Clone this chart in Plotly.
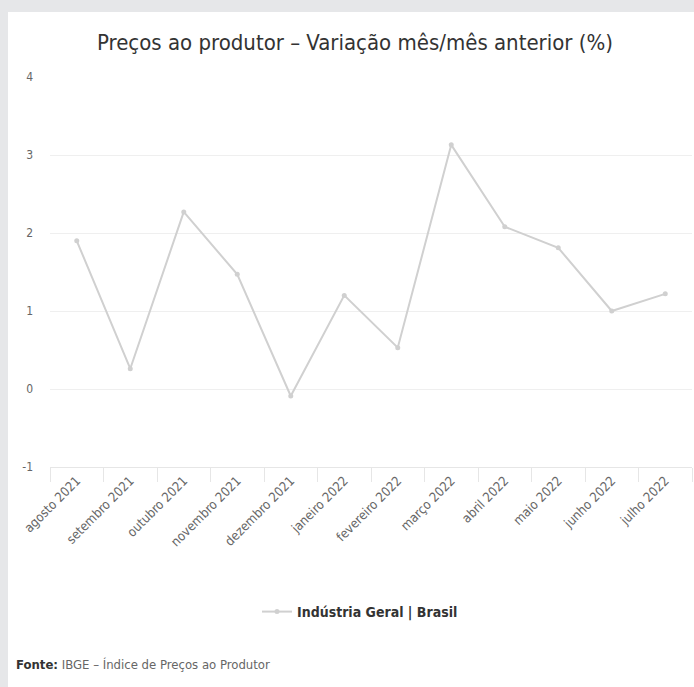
import plotly.graph_objects as go

categories = ["agosto 2021", "setembro 2021", "outubro 2021", "novembro 2021",
              "dezembro 2021", "janeiro 2022", "fevereiro 2022", "março 2022",
              "abril 2022", "maio 2022", "junho 2022", "julho 2022"]
values = [1.90, 0.26, 2.27, 1.47, -0.09, 1.20, 0.53, 3.13, 2.08, 1.81, 1.00, 1.22]
series_name = "Indústria Geral | Brasil"
y_ticks = [-1, 0, 1, 2, 3, 4]
y_tick_labels = ["-1", "0", "1", "2", "3", "4"]

W, H = 694, 687
L, R, T, B = 50, 2, 77, 220
pw, ph = W - L - R, H - T - B

def px(x):
    return (x - L) / pw

def py(y):
    return (H - B - y) / ph

FONT = "Liberation Sans Narrow, DejaVu Sans Condensed, Arial Narrow, sans-serif"

fig = go.Figure()
fig.add_trace(go.Scatter(
    x=categories, y=values, mode="lines+markers", name="<b>" + series_name + "</b>",
    line=dict(color="#d0d0d0", width=2),
    marker=dict(color="#d0d0d0", size=5),
    showlegend=True,
))

fig.update_layout(
    width=W, height=H,
    margin=dict(l=L, r=R, t=T, b=B, autoexpand=False),
    paper_bgcolor="#e6e7e9",
    plot_bgcolor="white",
    font=dict(family=FONT, color="#666666"),
    title=dict(text="Preços ao produtor – Variação mês/mês anterior (%)",
               x=px(355), xref="paper", xanchor="center",
               y=1 - 42 / H, yanchor="middle",
               font=dict(size=22, color="#333333", family=FONT)),
    xaxis=dict(type="category", range=[-0.5, len(categories) - 0.5],
               showgrid=False, showline=True, linecolor="#e6e6e6",
               linewidth=1, ticks="outside", tickson="boundaries", ticklen=14,
               tickcolor="#e6e6e6", tickangle=-45, tickfont=dict(size=13, color="#666666"),
               zeroline=False, automargin=False),
    yaxis=dict(range=[-1, 4], tickvals=y_ticks, ticktext=y_tick_labels,
               showgrid=True, gridcolor="#efefef",
               zeroline=False, showline=False, ticks="", ticklabelstandoff=16,
               tickfont=dict(size=12, color="#666666"), automargin=False),
    legend=dict(orientation="h", x=px(360), xanchor="center", y=py(612), yanchor="middle",
                font=dict(size=14, color="#333333", family=FONT), bgcolor="rgba(0,0,0,0)"),
    shapes=[dict(type="rect", xref="paper", yref="paper",
                 x0=px(8), x1=px(W + 5), y0=py(H + 5), y1=py(12),
                 fillcolor="white", line=dict(width=0), layer="below")],
    annotations=[dict(text="<b>Fonte:</b> <span style='color:#666666'>IBGE – Índice de Preços ao Produtor</span>",
                      xref="paper", yref="paper", x=px(14), y=py(664),
                      xanchor="left", yanchor="middle", showarrow=False,
                      font=dict(size=13, color="#333333", family=FONT))],
)
fig.write_html("out.html", config={"displayModeBar": False},
               post_script="document.body.style.margin='0';document.body.style.overflow='hidden';")
